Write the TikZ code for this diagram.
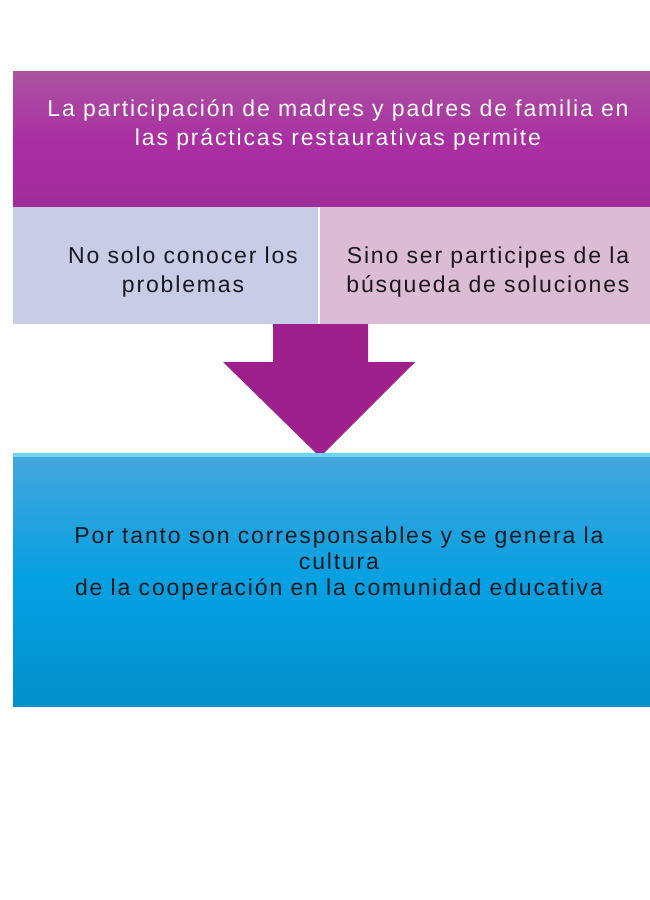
\documentclass[tikz,border=0pt]{standalone}
\usepackage{fontspec}
\setmainfont{Liberation Sans}[LetterSpace=8]
\definecolor{ptop}{RGB}{170,84,160}
\definecolor{pmid}{RGB}{170,47,163}
\definecolor{pbot}{RGB}{162,44,156}
\definecolor{lav}{RGB}{200,204,230}
\definecolor{pink}{RGB}{220,188,212}
\definecolor{arrowc}{RGB}{158,32,140}
\definecolor{btop}{RGB}{70,166,220}
\definecolor{bmid}{RGB}{5,160,226}
\definecolor{bbot}{RGB}{2,144,202}
\definecolor{bline}{RGB}{110,214,245}
\definecolor{txt}{RGB}{25,25,30}
\tikzset{
  box/.style={rectangle, inner sep=0pt, anchor=north west},
  lbl/.style={align=center, font=\fontsize{23}{29}\selectfont, inner sep=0pt},
}
\begin{document}
\begin{tikzpicture}[x=1pt,y=-1pt]
\useasboundingbox (0,0) rectangle (650,900);
\fill[white] (0,0) rectangle (650,900);
% top box
\node[box, minimum width=637pt, minimum height=136pt, top color=ptop, bottom color=pbot, middle color=pmid] (topbox) at (13,71) {};
% left and right boxes
\node[box, minimum width=305pt, minimum height=117pt, fill=lav] (left) at (13,207) {};
\node[box, minimum width=330pt, minimum height=117pt, fill=pink] (right) at (320,207) {};
\fill[white!90!lav] (318,207) rectangle (320,324);
% arrow
\fill[arrowc] (273,324) -- (368,324) -- (368,362) -- (415,362) -- (320,457) -- (223,362) -- (273,362) -- cycle;
% bottom box
\node[box, minimum width=637pt, minimum height=253pt, top color=btop, bottom color=bbot, middle color=bmid] (bottom) at (13,453) {};
\fill[bline] (13,453) rectangle (650,457);
% texts
\node[lbl, text=white] (t1) at (338,125) {La participación de madres y padres de familia en\\las prácticas restaurativas permite};
\node[lbl, text=txt] (t2) at (183,272) {No solo conocer los\\problemas};
\node[lbl, text=txt] (t3) at (488,272) {Sino ser participes de la\\búsqueda de soluciones};
\node[lbl, text=txt, font=\fontsize{23}{26}\selectfont] (t4) at (339,564) {Por tanto son corresponsables y se genera la\\cultura\\de la cooperación en la comunidad educativa};
\end{tikzpicture}
\end{document}
